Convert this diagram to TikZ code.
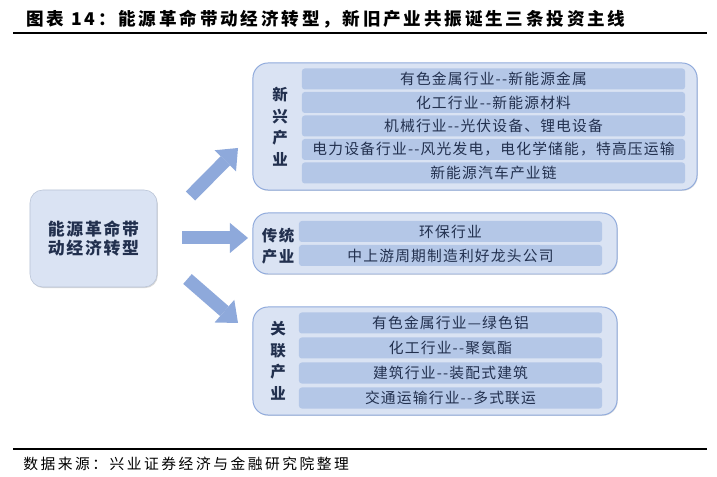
\documentclass[tikz,border=0pt]{standalone}
\usepackage{fontspec}
\setmainfont{Noto Sans CJK SC}
\newfontfamily\widefont[LetterSpace=10]{Noto Sans CJK SC}
\newfontfamily\titlefont[LetterSpace=16]{Noto Sans CJK SC}
\newfontfamily\sourcefont[LetterSpace=17]{Noto Sans CJK SC}
\newfontfamily\rowfont[LetterSpace=8]{Noto Sans CJK SC}
\usetikzlibrary{arrows.meta,shadows}
\definecolor{groupfill}{HTML}{DAE3F3}
\definecolor{rowfill}{HTML}{B4C7E7}
\definecolor{groupline}{HTML}{8FAADC}
\definecolor{leftline}{HTML}{B8C3D6}
\definecolor{arrowblue}{HTML}{8EA9DB}
\definecolor{navy}{HTML}{22304E}
\begin{document}
\begin{tikzpicture}[x=0.025cm,y=-0.025cm,
	group/.style={draw=groupline, fill=groupfill, rounded corners=0.375cm, line width=0.7pt,
		drop shadow={shadow xshift=0.5pt, shadow yshift=-0.6pt, opacity=0.25}},
	rowbox/.style={fill=rowfill, rounded corners=2pt, minimum height=0.525cm, inner sep=0pt,
		text=navy, font=\rowfont\fontsize{10.5}{12}\selectfont},
	grouplabel/.style={align=center, inner sep=0pt, text=navy,
		font=\widefont\bfseries\fontsize{11}{15.3}\selectfont},
	blockarrow/.style={draw=arrowblue, line width=0.325cm,
		-{Triangle[length=0.45cm, width=0.75cm, line width=0pt]}}]
	\useasboundingbox [fill=white] (0,0) rectangle (717,477);
	\node (title) at (26,19.5)	[anchor=west, inner sep=0pt, font=\titlefont\bfseries\fontsize{12.5}{14}\selectfont]	{图表 14：能源革命带动经济转型，新旧产业共振诞生三条投资主线};
	\coordinate (T0) at (13,33);
	\coordinate (T1) at (707,33);
	\draw [line width=0.8pt] (T0) -- (T1);
	\node (left) at (93.5,238.5)	[draw=leftline, fill=groupfill, rounded corners=0.32cm, minimum width=3.175cm, minimum height=2.425cm, align=center, text=navy, font=\widefont\bfseries\fontsize{12}{13.5}\selectfont, drop shadow={shadow xshift=0.6pt, shadow yshift=-0.8pt, opacity=0.3}]	{能源革命带\\动经济转型};
	\node (new) at (475,126.5)	[group, minimum width=11.1cm, minimum height=3.175cm]	{};
	\node (old) at (435,243.5)	[group, minimum width=9.1cm, minimum height=1.525cm]	{};
	\node (rel) at (435,361)	[group, minimum width=9.1cm, minimum height=2.7cm]	{};
	\node (newlab) at (280,126.5)	[grouplabel]	{新\\兴\\产\\业};
	\node (oldlab) at (278,246)	[grouplabel]	{传统\\产业};
	\node (rellab) at (278,361)	[grouplabel]	{关\\联\\产\\业};
	\node (N1) at (493.5,79)	[rowbox, minimum width=9.575cm]	{有色金属行业-{}-新能源金属};
	\node (N2) at (493.5,102.5)	[rowbox, minimum width=9.575cm]	{化工行业-{}-新能源材料};
	\node (N3) at (493.5,126)	[rowbox, minimum width=9.575cm]	{机械行业-{}-光伏设备、锂电设备};
	\node (N4) at (493.5,149.5)	[rowbox, minimum width=9.575cm]	{电力设备行业-{}-风光发电，电化学储能，特高压运输};
	\node (N5) at (493.5,173)	[rowbox, minimum width=9.575cm]	{新能源汽车产业链};
	\node (O1) at (450.5,231.5)	[rowbox, minimum width=7.575cm]	{环保行业};
	\node (O2) at (450.5,255.5)	[rowbox, minimum width=7.575cm]	{中上游周期制造利好龙头公司};
	\node (R1) at (450.5,323)	[rowbox, minimum width=7.575cm]	{有色金属行业—绿色铝};
	\node (R2) at (450.5,348)	[rowbox, minimum width=7.575cm]	{化工行业-{}-聚氨酯};
	\node (R3) at (450.5,373)	[rowbox, minimum width=7.575cm]	{建筑行业-{}-装配式建筑};
	\node (R4) at (450.5,398)	[rowbox, minimum width=7.575cm]	{交通运输行业-{}-多式联运};
	\coordinate (up0) at (190.5,196);
	\coordinate (up1) at (238,148);
	\coordinate (mid0) at (182,238);
	\coordinate (mid1) at (248,238);
	\coordinate (dn0) at (187.5,279);
	\coordinate (dn1) at (238,323);
	\draw [blockarrow] (up0) -- (up1);
	\draw [blockarrow] (mid0) -- (mid1);
	\draw [blockarrow] (dn0) -- (dn1);
	\coordinate (B0) at (13,449);
	\coordinate (B1) at (707,449);
	\draw [line width=0.8pt] (B0) -- (B1);
	\node (source) at (23,463.5)	[anchor=west, inner sep=0pt, font=\sourcefont\fontsize{10.5}{12}\selectfont]	{数据来源：兴业证券经济与金融研究院整理};
\end{tikzpicture}
\end{document}
